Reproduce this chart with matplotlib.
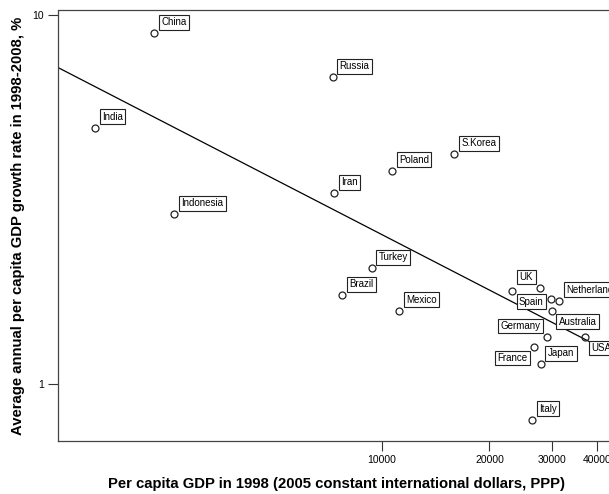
import numpy as np
import matplotlib
matplotlib.use('Agg')
import matplotlib.pyplot as plt
from matplotlib.ticker import FixedLocator, FixedFormatter, NullLocator

countries = ['China', 'Russia', 'India', 'Iran', 'Indonesia', 'S.Korea', 'Poland',
             'Turkey', 'Brazil', 'Mexico', 'Spain', 'UK', 'Canada', 'Netherlands',
             'Australia', 'Germany', 'France', 'USA', 'Japan', 'Italy']
gdp_1998 = [2310, 7290, 1580, 7370, 2630, 15960, 10690,
            9380, 7760, 11200, 23140, 27720, 29700, 31390,
            29890, 29060, 26720, 36970, 27850, 26380]
growth_rate = [8.89, 6.77, 4.94, 3.28, 2.88, 4.19, 3.78,
               2.06, 1.74, 1.58, 1.79, 1.82, 1.70, 1.68,
               1.58, 1.34, 1.26, 1.34, 1.13, 0.80]
# where the label box sits relative to its point ('' = no label)
label_side = ['ur', 'ur', 'ur', 'ur', 'ur', 'ur', 'ur',
              'ur', 'ur', 'ur', 'dr', 'ul', '', 'ur',
              'dr', 'ul', 'dl', 'dr', 'ur', 'ur']

x_ticks = [10000, 20000, 30000, 40000]
y_ticks = [1, 10]

plt.rcParams['font.family'] = ['Liberation Sans', 'DejaVu Sans']

fig = plt.figure(figsize=(6.09, 4.94), dpi=100)
ax = fig.add_axes([58 / 609, 1 - 441 / 494, 567 / 609, 430.5 / 494])
ax.set_xscale('log')
ax.set_yscale('log')
ax.set_xlim(1243, 47900)
ax.set_ylim(0.701, 10.26)

# log-log linear fit
lx = np.log10(gdp_1998)
ly = np.log10(growth_rate)
slope, icpt = np.polyfit(lx, ly, 1)
xs = np.array(ax.get_xlim())
ax.plot(xs, 10 ** (icpt + slope * np.log10(xs)), color='black', lw=0.9, zorder=2)

ax.plot(gdp_1998, growth_rate, 'o', mfc='none', mec='#222222', ms=5, mew=0.9, zorder=3)

pad = 0.25
fs = 7
for name, x, y, side in zip(countries, gdp_1998, growth_rate, label_side):
    if not side:
        continue
    dx = 4.5 * 0.72 + pad * fs
    dy = 11 * 0.72
    if side[1] == 'l':
        dx = -dx
        ha = 'right'
    else:
        ha = 'left'
    if side[0] == 'd':
        dy = -dy
    ax.annotate(name, (x, y), xytext=(dx, dy), textcoords='offset points',
                ha=ha, va='center', fontsize=fs, color='black', zorder=4,
                bbox=dict(boxstyle='square,pad=%s' % pad, fc='white', ec='#222222', lw=0.8))

ax.xaxis.set_major_locator(FixedLocator(x_ticks))
ax.xaxis.set_major_formatter(FixedFormatter([str(t) for t in x_ticks]))
ax.xaxis.set_minor_locator(NullLocator())
ax.yaxis.set_major_locator(FixedLocator(y_ticks))
ax.yaxis.set_major_formatter(FixedFormatter([str(t) for t in y_ticks]))
ax.yaxis.set_minor_locator(NullLocator())
ax.tick_params(direction='out', length=7, width=0.8, labelsize=7.5, pad=3, color='#333333')

for s in ax.spines.values():
    s.set_color('#444444')
    s.set_linewidth(0.9)

fig.text(337 / 609, 1 - 484 / 494, 'Per capita GDP in 1998 (2005 constant international dollars, PPP)',
         ha='center', va='center', fontsize=10.7, fontweight='bold')
fig.text(18.5 / 609, 1 - 226 / 494, 'Average annual per capita GDP growth rate in 1998-2008, %',
         ha='center', va='center', rotation=90, fontsize=10.7, fontweight='bold')

fig.savefig('out.png', dpi=100)
